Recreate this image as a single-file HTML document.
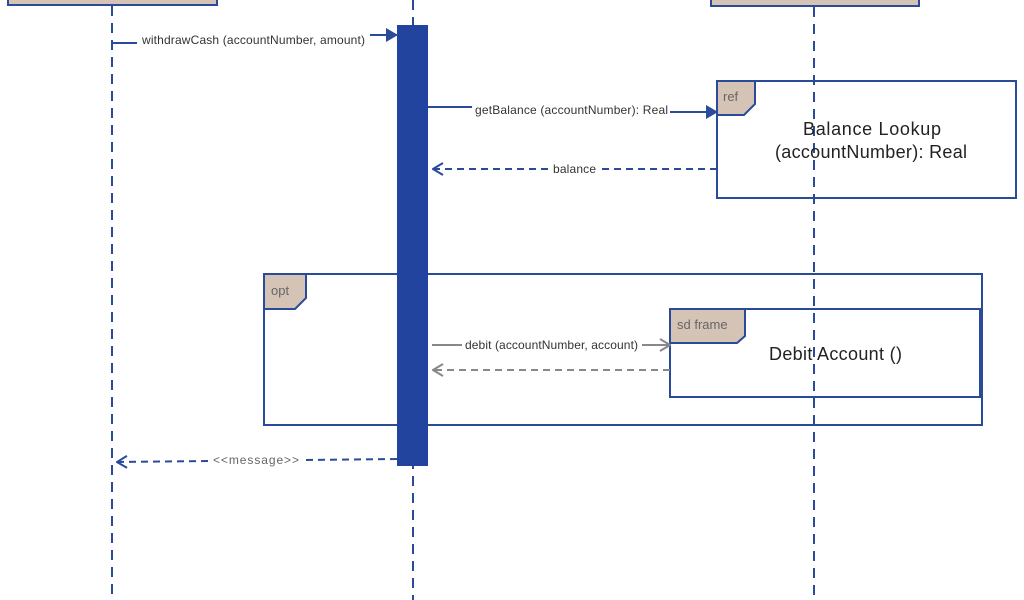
<!DOCTYPE html>
<html><head><style>body{margin:0;background:#fff}svg{display:block}text{font-family:"Liberation Sans",sans-serif}</style></head>
<body>
<svg width="1024" height="600" viewBox="0 0 1024 600" xmlns="http://www.w3.org/2000/svg">
<defs>
<marker id="fa" markerWidth="12" markerHeight="14" refX="11" refY="7" orient="auto" markerUnits="userSpaceOnUse"><path d="M0,0 L12,7 L0,14 z" fill="#2a4a9a"/></marker>
<marker id="oa" markerWidth="12" markerHeight="14" refX="11" refY="7" orient="auto" markerUnits="userSpaceOnUse"><path d="M1,1 L11,7 L1,13" fill="none" stroke="#2a4a9a" stroke-width="2"/></marker>
<marker id="ga" markerWidth="12" markerHeight="14" refX="11" refY="7" orient="auto" markerUnits="userSpaceOnUse"><path d="M1,1 L11,7 L1,13" fill="none" stroke="#888" stroke-width="2"/></marker>
</defs>
<rect x="8" y="-10" width="209" height="15" fill="#d5c3b6" stroke="#2a4a9a" stroke-width="2"/>
<rect x="711" y="-10" width="208" height="16" fill="#d5c3b6" stroke="#2a4a9a" stroke-width="2"/>
<g stroke="#2a4a9a" stroke-width="2" stroke-dasharray="10,7">
<line x1="112" y1="6" x2="112" y2="600"/>
<line x1="413" y1="0" x2="413" y2="600"/>
<line x1="814" y1="7" x2="814" y2="600"/>
</g>
<rect x="264" y="274" width="718" height="151" fill="none" stroke="#2a4a9a" stroke-width="2"/>
<path d="M264,274 H306 V298 L295,309 H264 z" fill="#d5c3b6" stroke="#2a4a9a" stroke-width="2"/>
<text x="271" y="295" font-size="13" fill="#666">opt</text>
<rect x="717" y="81" width="299" height="117" fill="none" stroke="#2a4a9a" stroke-width="2"/>
<path d="M717,81 H755 V104 L744,115 H717 z" fill="#d5c3b6" stroke="#2a4a9a" stroke-width="2"/>
<text x="723" y="101" font-size="13" fill="#666">ref</text>
<text x="803" y="135" font-size="18" fill="#222" textLength="138">Balance  Lookup</text>
<text x="775" y="158" font-size="18" fill="#222" textLength="192">(accountNumber): Real</text>
<rect x="670" y="309" width="310" height="88" fill="none" stroke="#2a4a9a" stroke-width="2"/>
<path d="M670,309 H745 V336 L737,343 H670 z" fill="#d5c3b6" stroke="#2a4a9a" stroke-width="2"/>
<text x="677" y="329" font-size="13" fill="#666">sd frame</text>
<text x="769" y="360" font-size="18" fill="#222" textLength="133">Debit Account ()</text>
<rect x="397" y="25" width="31" height="441" fill="#23449e"/>
<line x1="112" y1="43" x2="137" y2="43" stroke="#2a4a9a" stroke-width="2"/>
<text x="142" y="44" font-size="12" fill="#333" textLength="223">withdrawCash (accountNumber, amount)</text>
<line x1="370" y1="35" x2="397" y2="35" stroke="#2a4a9a" stroke-width="2" marker-end="url(#fa)"/>
<line x1="428" y1="107" x2="472" y2="107" stroke="#2a4a9a" stroke-width="2"/>
<text x="475" y="114" font-size="12" fill="#333" textLength="193">getBalance (accountNumber): Real</text>
<line x1="670" y1="112" x2="717" y2="112" stroke="#2a4a9a" stroke-width="2" marker-end="url(#fa)"/>
<line x1="548" y1="169" x2="433" y2="169" stroke="#2a4a9a" stroke-width="2" stroke-dasharray="7,5" marker-end="url(#oa)"/>
<text x="553" y="173" font-size="12" fill="#333" textLength="43">balance</text>
<line x1="717" y1="169" x2="600" y2="169" stroke="#2a4a9a" stroke-width="2" stroke-dasharray="7,5"/>
<line x1="432" y1="345" x2="462" y2="345" stroke="#888" stroke-width="2"/>
<text x="465" y="349" font-size="12" fill="#333" textLength="173">debit (accountNumber, account)</text>
<line x1="642" y1="345" x2="670" y2="345" stroke="#888" stroke-width="2" marker-end="url(#ga)"/>
<line x1="670" y1="370" x2="433" y2="370" stroke="#888" stroke-width="2" stroke-dasharray="7,5" marker-end="url(#ga)"/>
<line x1="397" y1="459" x2="302" y2="460" stroke="#2a4a9a" stroke-width="2" stroke-dasharray="7,5"/>
<text x="213" y="464" font-size="12" fill="#666" textLength="86">&lt;&lt;message&gt;&gt;</text>
<line x1="208" y1="461" x2="117" y2="462" stroke="#2a4a9a" stroke-width="2" stroke-dasharray="7,5" marker-end="url(#oa)"/>
</svg>
</body></html>
